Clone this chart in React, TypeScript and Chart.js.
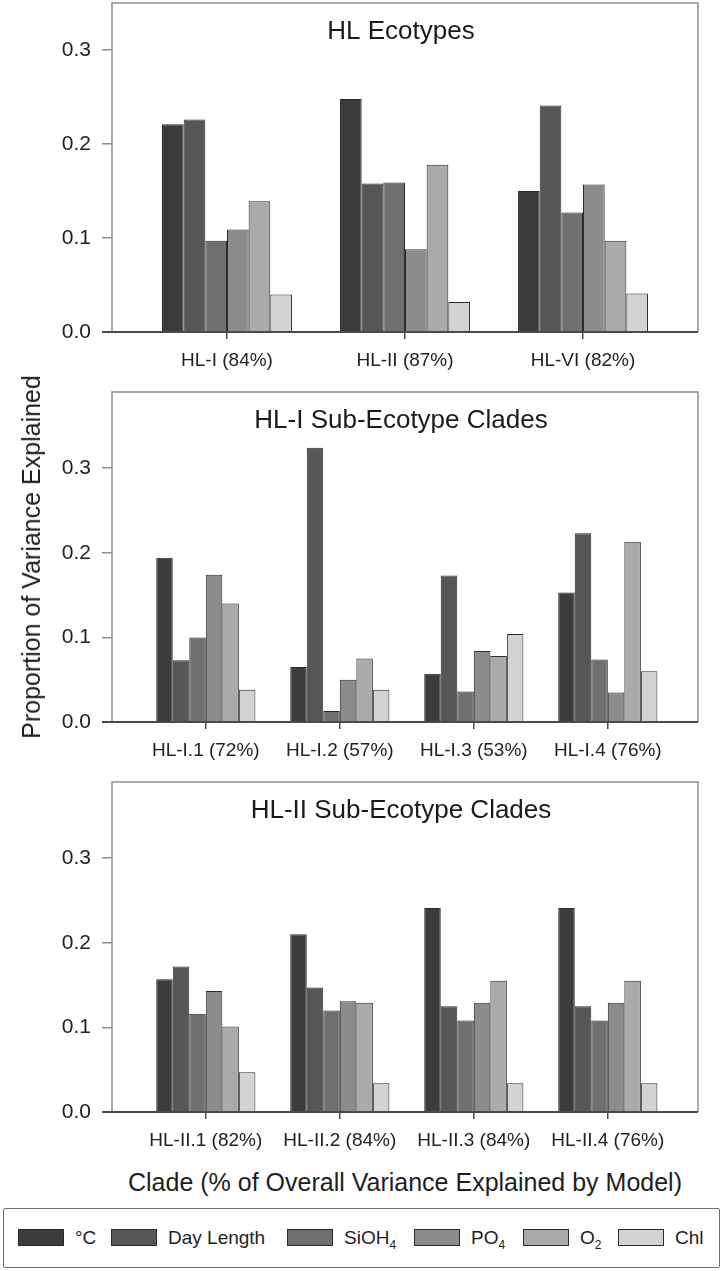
import React, { useEffect, useRef } from "react";
import { Chart, registerables } from "chart.js";

Chart.register(...registerables);

const FONT = "'Liberation Sans', Arial, Helvetica, sans-serif";

// ---- series ----
const SERIES = ["°C", "Day Length", "SiOH4", "PO4", "O2", "Chl"];
const SERIES_COLORS = ["#3c3c3c", "#575757", "#6f6f6f", "#8c8c8c", "#aaaaaa", "#d3d3d3"];

// ---- y ticks ----
const Y_TICKS = [0, 0.1, 0.2, 0.3];

// ---- panel 1: HL Ecotypes ----
const P1_TITLE = "HL Ecotypes";
const P1_CATEGORIES = ["HL-I (84%)", "HL-II (87%)", "HL-VI (82%)"];
const P1_TEMP = [0.221, 0.248, 0.15];
const P1_DAYLEN = [0.226, 0.158, 0.241];
const P1_SIOH4 = [0.097, 0.159, 0.127];
const P1_PO4 = [0.109, 0.088, 0.157];
const P1_O2 = [0.139, 0.178, 0.097];
const P1_CHL = [0.04, 0.032, 0.041];

// ---- panel 2: HL-I Sub-Ecotype Clades ----
const P2_TITLE = "HL-I Sub-Ecotype Clades";
const P2_CATEGORIES = ["HL-I.1 (72%)", "HL-I.2 (57%)", "HL-I.3 (53%)", "HL-I.4 (76%)"];
const P2_TEMP = [0.194, 0.065, 0.057, 0.153];
const P2_DAYLEN = [0.073, 0.324, 0.173, 0.223];
const P2_SIOH4 = [0.1, 0.013, 0.036, 0.074];
const P2_PO4 = [0.174, 0.05, 0.084, 0.035];
const P2_O2 = [0.14, 0.075, 0.078, 0.213];
const P2_CHL = [0.038, 0.038, 0.104, 0.06];

// ---- panel 3: HL-II Sub-Ecotype Clades ----
const P3_TITLE = "HL-II Sub-Ecotype Clades";
const P3_CATEGORIES = ["HL-II.1 (82%)", "HL-II.2 (84%)", "HL-II.3 (84%)", "HL-II.4 (76%)"];
const P3_TEMP = [0.157, 0.21, 0.241, 0.241];
const P3_DAYLEN = [0.172, 0.147, 0.125, 0.125];
const P3_SIOH4 = [0.116, 0.12, 0.108, 0.108];
const P3_PO4 = [0.143, 0.131, 0.129, 0.129];
const P3_O2 = [0.101, 0.129, 0.155, 0.155];
const P3_CHL = [0.047, 0.034, 0.034, 0.034];

const Y_TITLE = "Proportion of Variance Explained";
const X_TITLE = "Clade (% of Overall Variance Explained by Model)";

const framePlugin = {
  id: "frame",
  afterDatasetsDraw(chart: any, _args: any, opts: any) {
    const { ctx, chartArea: a } = chart;
    ctx.save();
    ctx.strokeStyle = "#8e8e8e";
    ctx.lineWidth = 1.5;
    ctx.beginPath();
    ctx.moveTo(a.left, a.bottom);
    ctx.lineTo(a.left, a.top);
    ctx.lineTo(a.right, a.top);
    ctx.lineTo(a.right, a.bottom);
    ctx.stroke();
    ctx.strokeStyle = "#4a4a4a";
    ctx.lineWidth = 2;
    ctx.beginPath();
    ctx.moveTo(a.left - 10, a.bottom);
    ctx.lineTo(a.right, a.bottom);
    ctx.stroke();
    if (opts && opts.text) {
      ctx.fillStyle = "#1a1a1a";
      ctx.font = `26px ${FONT}`;
      ctx.textAlign = "center";
      ctx.textBaseline = "middle";
      ctx.fillText(opts.text, (a.left + a.right) / 2 - 4, a.top + 29);
    }
    ctx.restore();
  },
};

type PanelProps = {
  title: string;
  categories: string[];
  values: number[][];
  yMax: number;
  xMin: number;
  xMax: number;
  catPct: number;
  top: number;
  padTop: number;
};

function Panel({ title, categories, values, yMax, xMin, xMax, catPct, top, padTop }: PanelProps) {
  const ref = useRef<HTMLCanvasElement | null>(null);
  useEffect(() => {
    if (!ref.current) return;
    const chart = new Chart(ref.current, {
      type: "bar",
      data: {
        datasets: SERIES.map((name, s) => ({
          label: name,
          data: values[s].map((v, i) => ({ x: i + 1, y: v })),
          backgroundColor: SERIES_COLORS[s],
          borderColor: "#2b2b2b",
          borderWidth: 1,
          categoryPercentage: catPct,
          barPercentage: 1,
        })),
      },
      options: {
        animation: false,
        responsive: false,
        layout: { padding: { top: padTop, right: 24, left: 0, bottom: 0 } },
        plugins: {
          legend: { display: false },
          tooltip: { enabled: false },
          frame: { text: title },
        } as any,
        scales: {
          x: {
            type: "linear",
            offset: false,
            min: xMin,
            max: xMax,
            afterBuildTicks: (s: any) => {
              s.ticks = categories.map((_, i) => ({ value: i + 1 }));
            },
            afterFit: (s: any) => {
              s.height = 48;
              s.paddingLeft = 0;
              s.paddingRight = 0;
            },
            ticks: {
              callback: (v: any) => categories[Math.round(Number(v)) - 1] ?? "",
              font: { size: 19, family: FONT },
              color: "#222",
              padding: 10,
              maxRotation: 0,
              minRotation: 0,
              autoSkip: false,
            },
            grid: {
              offset: false,
              drawOnChartArea: false,
              drawTicks: true,
              tickLength: 7,
              color: "#4a4a4a",
              lineWidth: 1.5,
            },
            border: { display: false },
          },
          y: {
            min: 0,
            max: yMax,
            afterBuildTicks: (s: any) => {
              s.ticks = Y_TICKS.map((v) => ({ value: v }));
            },
            afterFit: (s: any) => {
              s.width = 112;
              s.paddingTop = 0;
              s.paddingBottom = 0;
            },
            ticks: {
              callback: (v: any) => Number(v).toFixed(1),
              font: { size: 21, family: FONT },
              color: "#222",
              padding: 11,
            },
            grid: { drawOnChartArea: false, drawTicks: true, tickLength: 10, color: "#8e8e8e", lineWidth: 1.5 },
            border: { display: false },
          },
        },
      } as any,
      plugins: [framePlugin as any],
    });
    return () => chart.destroy();
  }, []);
  return (
    <canvas
      ref={ref}
      width={722}
      height={380}
      style={{ position: "absolute", left: 0, top }}
    />
  );
}

function LegendLabel({ name }: { name: string }) {
  const m = name.match(/^(.*?)(\d)$/);
  if (!m) return <span>{name}</span>;
  return (
    <span>
      {m[1]}
      <span style={{ fontSize: 12, position: "relative", top: 5 }}>{m[2]}</span>
    </span>
  );
}

const LEGEND_LEFTS = [14, 107, 283, 410, 519, 614];

export default function App() {
  return (
    <div
      style={{
        position: "absolute",
        left: 0,
        top: 0,
        width: 722,
        height: 1271,
        background: "#fff",
        fontFamily: FONT,
        color: "#1e1e1e",
        overflow: "hidden",
      }}
    >
      <Panel
        title={P1_TITLE}
        categories={P1_CATEGORIES}
        values={[P1_TEMP, P1_DAYLEN, P1_SIOH4, P1_PO4, P1_O2, P1_CHL]}
        yMax={0.35}
        xMin={0.354}
        xMax={3.646}
        catPct={0.73}
        top={0}
        padTop={3}
      />
      <Panel
        title={P2_TITLE}
        categories={P2_CATEGORIES}
        values={[P2_TEMP, P2_DAYLEN, P2_SIOH4, P2_PO4, P2_O2, P2_CHL]}
        yMax={0.39}
        xMin={0.3}
        xMax={4.673}
        catPct={0.74}
        top={390}
        padTop={2}
      />
      <Panel
        title={P3_TITLE}
        categories={P3_CATEGORIES}
        values={[P3_TEMP, P3_DAYLEN, P3_SIOH4, P3_PO4, P3_O2, P3_CHL]}
        yMax={0.39}
        xMin={0.3}
        xMax={4.673}
        catPct={0.74}
        top={780}
        padTop={2}
      />
      <div
        style={{
          position: "absolute",
          left: 31,
          top: 557,
          transform: "translate(-50%, -50%) rotate(-90deg)",
          whiteSpace: "nowrap",
          fontSize: 25,
          lineHeight: "28px",
        }}
      >
        {Y_TITLE}
      </div>
      <div
        style={{
          position: "absolute",
          left: 112,
          width: 586,
          top: 1168,
          textAlign: "center",
          whiteSpace: "nowrap",
          fontSize: 25,
          lineHeight: "28px",
        }}
      >
        {X_TITLE}
      </div>
      <div
        style={{
          position: "absolute",
          left: 3,
          top: 1208,
          width: 717,
          height: 60,
          boxSizing: "border-box",
          border: "1.5px solid #6e6e6e",
          borderRadius: 2,
        }}
      >
        {SERIES.map((name, s) => (
          <div
            key={name}
            style={{
              position: "absolute",
              left: LEGEND_LEFTS[s],
              top: 0,
              height: 57,
              display: "flex",
              alignItems: "center",
              fontSize: 19,
              whiteSpace: "nowrap",
            }}
          >
            <div
              style={{
                width: 46,
                height: 17,
                boxSizing: "border-box",
                border: "1px solid #2b2b2b",
                background: SERIES_COLORS[s],
                marginRight: 11,
              }}
            />
            <LegendLabel name={name} />
          </div>
        ))}
      </div>
    </div>
  );
}
